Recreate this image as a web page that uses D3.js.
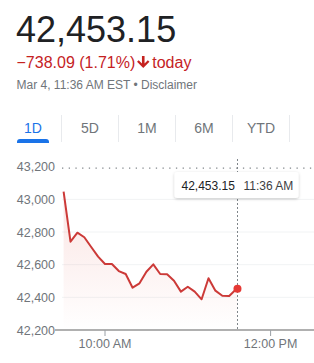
<!DOCTYPE html>
<html><head><meta charset="utf-8">
<script src="https://cdn.jsdelivr.net/npm/d3@7"></script>
<style>
html,body{margin:0;padding:0;background:#fff;overflow:hidden;}
svg{display:block;font-family:Arial,"Liberation Sans",sans-serif;}
</style></head>
<body>
<svg id="c" width="314" height="363"></svg>
<script>
// ---- data ----
const times = ["9:30","9:35","9:40","9:45","9:50","9:55","10:00","10:05","10:10","10:15","10:20","10:25","10:30","10:35","10:40","10:45","10:50","10:55","11:00","11:05","11:10","11:15","11:20","11:25","11:30","11:35","11:36"];
const values = [43047,42741,42796,42768,42708,42649,42604,42604,42561,42543,42459,42486,42557,42602,42543,42541,42502,42435,42465,42435,42388,42517,42441,42410,42408,42450,42453.15];
const yTicks = [42200,42400,42600,42800,43000,43200];
const xTicks = ["10:00","12:00"];
const xTickLabels = ["10:00 AM","12:00 PM"];
const tabs = ["1D","5D","1M","6M","YTD"];
const prevClose = 43191.24;
const headerPrice = "42,453.15";
const headerChange = "\u2212738.09 (1.71%)";
const headerDate = "Mar 4, 11:36 AM EST \u2022 Disclaimer";
const tooltipValue = "42,453.15";
const tooltipTime = "11:36 AM";

// ---- helpers ----
const parseT = s => { const [h,m] = s.split(":").map(Number); return h*60+m; };
const data = times.map((t,i)=>({t:parseT(t), v:values[i]}));

const svg = d3.select("#c");

// ---- header ----
svg.append("text").attr("x",16).attr("y",41.5).attr("font-size",36).attr("fill","#202124").text(headerPrice);
const ch = svg.append("text").attr("x",16.5).attr("y",68.3).attr("font-size",16).attr("fill","#c5221f").text(headerChange);
const chW = ch.node().getComputedTextLength();
// arrow
const ax = 16.5 + chW + 8, ay = 56;
svg.append("path")
  .attr("d",`M${ax-1.3},${ay} h2.6 v7.5 l3.3,-3.3 l1.6,1.6 l-6.2,6.2 l-6.2,-6.2 l1.6,-1.6 l3.3,3.3 z`)
  .attr("fill","#c5221f");
svg.append("text").attr("x",ax+9).attr("y",68.3).attr("font-size",16).attr("fill","#c5221f").text("today");
svg.append("text").attr("x",16.5).attr("y",88.5).attr("font-size",12).attr("fill","#70757a").text(headerDate);

// ---- tabs ----
const tabX = d3.scaleBand().domain(tabs).range([4.5,289.5]);
tabs.forEach((t,i)=>{
  const cx = tabX(t)+tabX.bandwidth()/2;
  svg.append("text").attr("x",cx).attr("y",133).attr("text-anchor","middle")
    .attr("font-size",14).attr("fill", i===0?"#1a73e8":"#70757a").text(t);
  svg.append("line").attr("x1",tabX(t)+tabX.bandwidth()).attr("x2",tabX(t)+tabX.bandwidth())
    .attr("y1",115).attr("y2",142).attr("stroke","#e8eaed").attr("stroke-width",1);
});
{
  const cx = tabX(tabs[0])+tabX.bandwidth()/2;
  svg.append("path")
    .attr("d",`M${cx-16},143 v-1 a3,3 0 0 1 3,-3 h26 a3,3 0 0 1 3,3 v1 z`)
    .attr("fill","#1a73e8");
}

// ---- scales ----
const x = d3.scaleLinear().domain([parseT("9:30"), parseT("16:00")]).range([63.6, 601.8]);
const y = d3.scaleLinear().domain([42200,43200]).range([330,166.7]);

// grid lines
svg.append("g").selectAll("line").data(yTicks.filter(v=>v>42200 && v<43200)).join("line")
  .attr("x1",62).attr("x2",314).attr("y1",d=>y(d)).attr("y2",d=>y(d))
  .attr("stroke","#f1f3f4").attr("stroke-width",1);

// y labels
svg.append("g").selectAll("text").data(yTicks).join("text")
  .attr("x",55).attr("y",d=>y(d)).attr("dy","0.36em").attr("text-anchor","end")
  .attr("font-size",12.5).attr("fill","#70757a")
  .text(d=>d3.format(",")(d));

// area gradient
const defs = svg.append("defs");
const g = defs.append("linearGradient").attr("id","ag").attr("gradientUnits","userSpaceOnUse")
  .attr("x1",0).attr("x2",0).attr("y1",y(43050)).attr("y2",330);
g.append("stop").attr("offset",0).attr("stop-color","#d93025").attr("stop-opacity",0.13);
g.append("stop").attr("offset",1).attr("stop-color","#d93025").attr("stop-opacity",0.0);
const f = defs.append("filter").attr("id","sh").attr("x","-20%").attr("y","-40%").attr("width","140%").attr("height","180%");
f.append("feDropShadow").attr("dx",0).attr("dy",1).attr("stdDeviation",1.6).attr("flood-color","#000").attr("flood-opacity",0.22);

svg.append("path").datum(data)
  .attr("d", d3.area().x(d=>x(d.t)).y0(330).y1(d=>y(d.v)))
  .attr("fill","url(#ag)");

// previous close dotted line
svg.append("line").attr("x1",62).attr("x2",314).attr("y1",y(prevClose)).attr("y2",y(prevClose))
  .attr("stroke","#80868b").attr("stroke-width",1.3).attr("stroke-dasharray","1.3,5.4");

// axis baseline
svg.append("line").attr("x1",55).attr("x2",314).attr("y1",330).attr("y2",330)
  .attr("stroke","#b0b0b0").attr("stroke-width",2);

// x ticks
xTicks.forEach((t,i)=>{
  const px = x(parseT(t));
  svg.append("line").attr("x1",px).attr("x2",px).attr("y1",330).attr("y2",336)
    .attr("stroke","#9aa0a6").attr("stroke-width",1);
  svg.append("text").attr("x",px).attr("y",347.5).attr("text-anchor","middle")
    .attr("font-size",12.5).attr("fill","#70757a").text(xTickLabels[i]);
});

// vertical cursor
const last = data[data.length-1];
const lx = Math.round(x(last.t))+0.5;
svg.append("line").attr("x1",lx).attr("x2",lx).attr("y1",159).attr("y2",329)
  .attr("stroke","#80868b").attr("stroke-width",1).attr("stroke-dasharray","2,2");

// line
svg.append("path").datum(data)
  .attr("d", d3.line().x(d=>x(d.t)).y(d=>y(d.v)))
  .attr("fill","none").attr("stroke","#cc3a38").attr("stroke-width",2).attr("stroke-linejoin","round");

// end dot
svg.append("circle").attr("cx",x(last.t)).attr("cy",y(last.v)).attr("r",4).attr("fill","#e53935");

// tooltip
svg.append("rect").attr("x",174.5).attr("y",172).attr("width",124).attr("height",26).attr("rx",3)
  .attr("fill","#fff").attr("filter","url(#sh)");
svg.append("text").attr("x",181.5).attr("y",189.5).attr("font-size",12).attr("fill","#202124").text(tooltipValue);
svg.append("text").attr("x",243.5).attr("y",189.5).attr("font-size",12).attr("fill","#3c4043").text(tooltipTime);
</script>
</body></html>
